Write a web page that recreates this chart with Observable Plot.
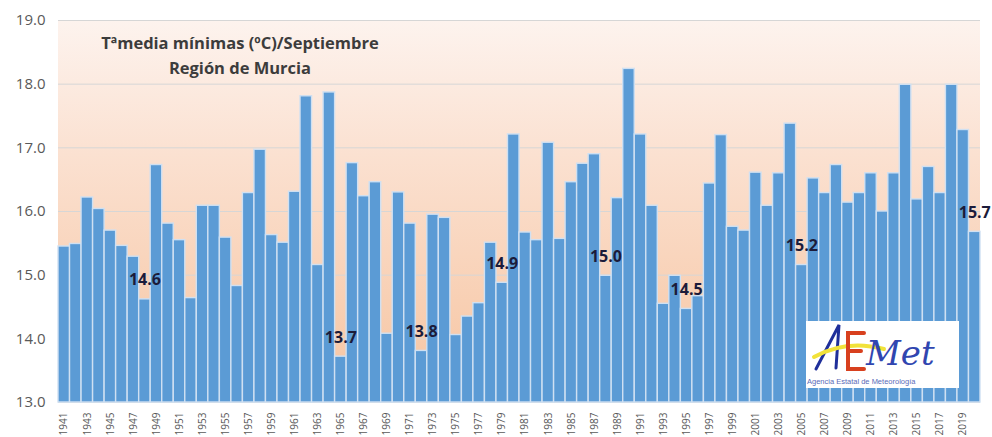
<!DOCTYPE html>
<html>
<head>
<meta charset="utf-8">
<script src="https://cdn.jsdelivr.net/npm/d3@7"></script>
<script src="https://cdn.jsdelivr.net/npm/@observablehq/plot@0.6"></script>
<style>
  html, body { margin: 0; padding: 0; background: #fff; }
  #wrap { position: relative; width: 992px; height: 437px; font-family: "Open Sans", sans-serif; }
  #title { position: absolute; left: 60px; top: 30px; width: 360px; text-align: center;
           font-weight: bold; font-size: 16.5px; line-height: 25px; color: #3c3c3c; }
  #logo { position: absolute; left: 806px; top: 321px; width: 153px; height: 67px; background: #fff; overflow: hidden; }
  #logo .small { position: absolute; left: 0; bottom: 2px; width: 153px; font-size: 7.5px; color: #5a6ab8; font-family: "Liberation Sans", sans-serif; padding-left: 1px; }
</style>
</head>
<body>
<div id="wrap">
  <div id="chart"></div>
  <div id="title">Tªmedia mínimas (ºC)/Septiembre<br>Región de Murcia</div>
  <div id="logo">
    <svg width="153" height="56" viewBox="0 0 153 56">
      <path d="M10 48 L33 4 L30 47" fill="none" stroke="#1f2f9a" stroke-width="3" stroke-linecap="round"/>
      <path d="M8 36 Q40 18 78 28" fill="none" stroke="#f2e23a" stroke-width="4" stroke-linecap="round"/>
      <path d="M58 12 L42 12 L42 48 L58 48 M42 30 L55 30" fill="none" stroke="#d8401e" stroke-width="4" stroke-linecap="round"/>
      <text x="60" y="44" font-family="DejaVu Serif" font-style="italic" font-size="34" fill="#3046b0">Met</text>
    </svg>
    <div class="small">Agencia Estatal de Meteorología</div>
  </div>
</div>
<script>
const years = [1941,1942,1943,1944,1945,1946,1947,1948,1949,1950,
  1951,1952,1953,1954,1955,1956,1957,1958,1959,1960,
  1961,1962,1963,1964,1965,1966,1967,1968,1969,1970,
  1971,1972,1973,1974,1975,1976,1977,1978,1979,1980,
  1981,1982,1983,1984,1985,1986,1987,1988,1989,1990,
  1991,1992,1993,1994,1995,1996,1997,1998,1999,2000,
  2001,2002,2003,2004,2005,2006,2007,2008,2009,2010,
  2011,2012,2013,2014,2015,2016,2017,2018,2019,2020];
const tmin = [15.45,15.49,16.22,16.04,15.70,15.46,15.29,14.62,16.73,15.81,
  15.55,14.64,16.09,16.09,15.59,14.83,16.29,16.97,15.63,15.51,
  16.31,17.81,15.16,17.87,13.72,16.76,16.24,16.46,14.08,16.30,
  15.81,13.81,15.95,15.90,14.06,14.35,14.56,15.51,14.88,17.21,
  15.67,15.55,17.08,15.57,16.46,16.75,16.90,14.99,16.21,18.24,
  17.21,16.09,14.55,14.99,14.47,14.67,16.44,17.20,15.76,15.70,
  16.61,16.09,16.60,17.38,15.16,16.52,16.29,16.73,16.14,16.29,
  16.60,16.00,16.60,17.99,16.19,16.70,16.29,17.99,17.28,15.68];
const labeledYears = [1948,1965,1972,1979,1988,1995,2005,2020];
const yTicks = [13,14,15,16,17,18,19];
const xTickYears = years.filter(y => y % 2 === 1);

const data = years.map((year, i) => ({year, value: tmin[i]}));
const labelData = data.filter(d => labeledYears.includes(d.year));

function background(index, scales, values, dims) {
  const ns = "http://www.w3.org/2000/svg";
  const g = document.createElementNS(ns, "g");
  const defs = document.createElementNS(ns, "defs");
  const grad = document.createElementNS(ns, "linearGradient");
  grad.setAttribute("id", "bgGrad");
  grad.setAttribute("x1", "0"); grad.setAttribute("y1", "0");
  grad.setAttribute("x2", "0"); grad.setAttribute("y2", "1");
  [["0", "#fdf3ee"], ["0.35", "#fbe1d1"], ["1", "#f6c4a0"]].forEach(([o, c]) => {
    const s = document.createElementNS(ns, "stop");
    s.setAttribute("offset", o); s.setAttribute("stop-color", c);
    grad.appendChild(s);
  });
  defs.appendChild(grad);
  g.appendChild(defs);
  const r = document.createElementNS(ns, "rect");
  r.setAttribute("x", dims.marginLeft);
  r.setAttribute("y", dims.marginTop);
  r.setAttribute("width", dims.width - dims.marginLeft - dims.marginRight);
  r.setAttribute("height", dims.height - dims.marginTop - dims.marginBottom);
  r.setAttribute("fill", "url(#bgGrad)");
  g.appendChild(r);
  return g;
}

const chart = Plot.plot({
  width: 992,
  height: 437,
  marginTop: 20,
  marginBottom: 35,
  marginLeft: 58,
  marginRight: 12,
  style: {fontFamily: "Open Sans, sans-serif", background: "#fff", overflow: "visible"},
  x: {type: "band", domain: years, padding: 0, label: null},
  y: {domain: [13, 19], label: null},
  marks: [
    background,
    Plot.ruleY(yTicks, {stroke: "#d6d6d6", strokeWidth: 1}),
    Plot.barY(data, {x: "year", y1: 13, y2: "value", fill: "#5b9bd5", stroke: "#cfe0f2", strokeWidth: 1.4}),
    Plot.axisY({ticks: yTicks, tickFormat: d => d.toFixed(1), tickSize: 0, tickPadding: 13,
      fontSize: 15, fill: "#595959"}),
    Plot.axisX({ticks: xTickYears, tickFormat: d => String(d), tickSize: 0, tickRotate: -90, tickPadding: 10,
      fontSize: 10, fill: "#595959"}),
    Plot.text(labelData, {x: "year", y: "value", text: d => d.value.toFixed(1),
      dy: -19, fontSize: 16, fontWeight: "bold", fill: "#1b1b3a", lineAnchor: "middle"})
  ]
});
document.getElementById("chart").appendChild(chart);
</script>
</body>
</html>
